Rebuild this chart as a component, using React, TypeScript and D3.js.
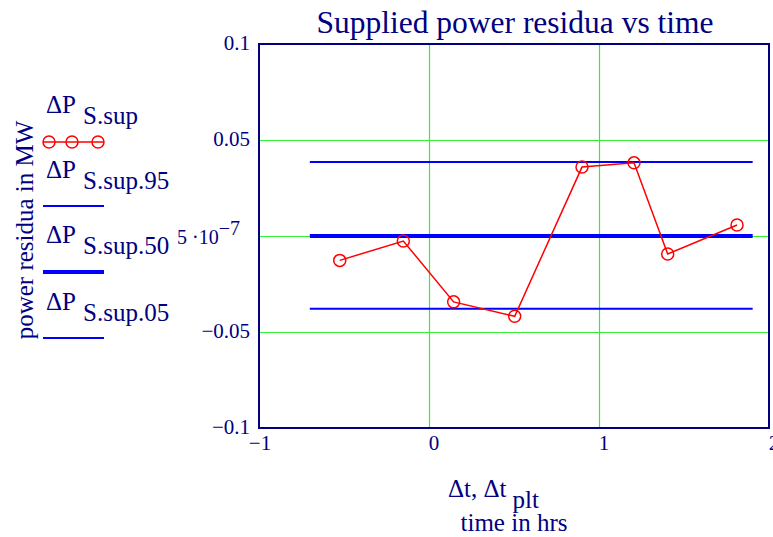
import React from "react";
import * as d3 from "d3";

const times = [-0.525, -0.151, 0.145, 0.504, 0.9, 1.206, 1.404, 1.812];
const residuals = [-0.0127, -0.0026, -0.0343, -0.0418, 0.0359, 0.0381, -0.0094, 0.0057];
const percentileNames = ["S.sup.95", "S.sup.50", "S.sup.05"];
const percentileValues = [0.0385, 0.0000005, -0.0379];
const percentileRange = [-0.701, 1.904];
const yTicks = [0.1, 0.05, 0, -0.05, -0.1];
const yTickLabels = ["0.1", "0.05", "", "\u22120.05", "\u22120.1"];
const xTicks = [-1, 0, 1, 2];
const xTickLabels = ["\u22121", "0", "1", "2"];

const W = 773;
const H = 537;
const NAVY = "#000080";
const FONT = "'Liberation Serif', 'DejaVu Serif', serif";

export default function App() {
  const x = d3.scaleLinear().domain([-1, 2]).range([259, 769]);
  const y = d3.scaleLinear().domain([-0.1, 0.1]).range([428, 44]);
  const line = d3
    .line<number>()
    .x((_, i) => x(times[i]))
    .y((d) => y(d));

  const legendY = [142, 206, 272, 338];
  const legendTextY = [113, 178, 243, 310];
  const legendWidths = [1.5, 2, 4, 2];

  return (
    <svg
      width={W}
      height={H}
      style={{ position: "absolute", left: 0, top: 0, background: "#fff" }}
      fontFamily={FONT}
    >
      {/* grid */}
      {xTicks.slice(1, 3).map((t) => (
        <line key={"gx" + t} x1={Math.round(x(t)) + 0.5} x2={Math.round(x(t)) + 0.5} y1={y(0.1)} y2={y(-0.1)} stroke="#33ee33" strokeWidth={1.2} />
      ))}
      {yTicks.slice(1, 4).map((t) => (
        <line key={"gy" + t} x1={x(-1)} x2={x(2)} y1={Math.round(y(t)) + 0.5} y2={Math.round(y(t)) + 0.5} stroke="#33ee33" strokeWidth={1.2} />
      ))}
      {/* percentile lines */}
      {percentileValues.map((v, i) => (
        <line
          key={"p" + i}
          x1={x(percentileRange[0])}
          x2={x(percentileRange[1])}
          y1={y(v)}
          y2={y(v)}
          stroke="#0000ff"
          strokeWidth={i === 1 ? 4 : 2}
        />
      ))}
      {/* data line */}
      <path d={line(residuals) || ""} fill="none" stroke="#ff0000" strokeWidth={1.5} />
      {residuals.map((v, i) => (
        <circle key={"c" + i} cx={x(times[i])} cy={y(v)} r={6} fill="none" stroke="#ff0000" strokeWidth={1.5} />
      ))}
      {/* frame */}
      <rect x={x(-1)} y={y(0.1)} width={x(2) - x(-1)} height={y(-0.1) - y(0.1)} fill="none" stroke={NAVY} strokeWidth={2} />
      {/* y tick labels */}
      {yTicks.map((t, i) =>
        yTickLabels[i] ? (
          <text key={"yt" + i} x={250} y={y(t) + 6} textAnchor="end" fontSize={21} fill={NAVY}>
            {yTickLabels[i]}
          </text>
        ) : null
      )}
      <text x={177} y={244} fontSize={20} fill={NAVY}>
        5 {"\u00b7"}10
        <tspan dy={-9}>{"\u2212"}7</tspan>
      </text>
      {/* x tick labels */}
      {xTicks.map((t, i) => (
        <text key={"xt" + i} x={x(t) + (i === 0 ? 1 : 5)} y={450} textAnchor="middle" fontSize={21} fill={NAVY}>
          {xTickLabels[i]}
        </text>
      ))}
      {/* title */}
      <text x={515} y={33} textAnchor="middle" fontSize={31.5} fill={NAVY}>
        Supplied power residua vs time
      </text>
      {/* y axis label */}
      <text transform="translate(33,230) rotate(-90)" textAnchor="middle" fontSize={25} fill={NAVY}>
        power residua in MW
      </text>
      {/* x axis label */}
      <text x={448} y={497} fontSize={25} fill={NAVY}>
        {"\u0394t, \u0394t"}
        <tspan dx={6} dy={11}>plt</tspan>
      </text>
      <text x={514} y={531} textAnchor="middle" fontSize={25} fill={NAVY}>
        time in hrs
      </text>
      {/* legend */}
      {["S.sup", ...percentileNames].map((name, i) => (
        <g key={"lg" + i}>
          <text x={46} y={legendTextY[i]} fontSize={25} fill={NAVY}>
            {"\u0394P"}
          </text>
          <text x={83} y={legendTextY[i] + 11} fontSize={25} fill={NAVY}>
            {name}
          </text>
          <line
            x1={43}
            x2={104}
            y1={legendY[i]}
            y2={legendY[i]}
            stroke={i === 0 ? "#ff0000" : "#0000ff"}
            strokeWidth={legendWidths[i]}
          />
        </g>
      ))}
      {[49, 72, 98].map((cx) => (
        <circle key={"lc" + cx} cx={cx} cy={142} r={6} fill="none" stroke="#ff0000" strokeWidth={1.5} />
      ))}
    </svg>
  );
}
